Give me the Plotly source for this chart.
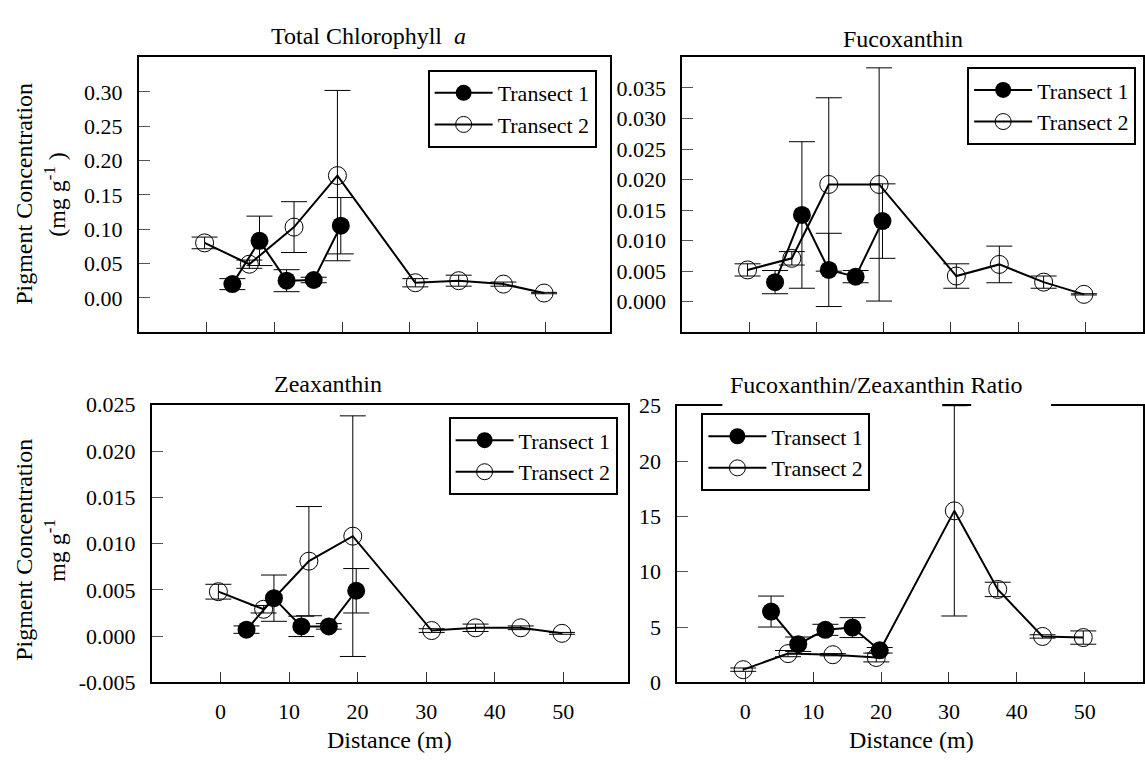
import plotly.graph_objects as go

W, H = 1145, 766

# ---------------- data ----------------
DIST_T1 = [3.8, 7.8, 11.8, 15.8, 19.8]
DIST_T2 = [-0.3, 6.3, 12.9, 19.3, 30.8, 37.2, 43.8, 49.8]
FUCO_DIST_T2 = [-0.3, 6.3, 11.8, 19.3, 30.8, 37.2, 43.8, 49.8]

CHL_T1 = [0.020, 0.083, 0.025, 0.026, 0.105]
CHL_T1_ERR = [0.008, 0.036, 0.016, 0.004, 0.041]
CHL_T2 = [0.080, 0.049, 0.103, 0.178, 0.022, 0.025, 0.020, 0.007]
CHL_T2_ERR = [0.0085, 0.006, 0.037, 0.124, 0.006, 0.008, 0.003, 0.001]

FUCO_T1 = [0.0032, 0.0142, 0.0052, 0.0041, 0.0132]
FUCO_T1_ERR = [0.0019, 0.012, 0.006, 0.001, 0.0061]
FUCO_T2 = [0.0052, 0.0071, 0.0192, 0.0192, 0.0042, 0.0061, 0.0032, 0.0012]
FUCO_T2_ERR = [0.001, 0.0011, 0.0142, 0.0191, 0.002, 0.003, 0.001, 0.0001]

ZEA_T1 = [0.0007, 0.0041, 0.00105, 0.00105, 0.0049]
ZEA_T1_ERR = [0.0004, 0.0025, 0.0011, 0.0003, 0.0024]
ZEA_T2 = [0.0048, 0.0029, 0.0081, 0.0108, 0.0006, 0.0009, 0.0009, 0.0003]
ZEA_T2_ERR = [0.0008, 0.0004, 0.0059, 0.013, 0.0002, 0.0004, 0.0002, 0.0001]

RATIO_T1 = [6.4, 3.45, 4.75, 4.95, 2.9]
RATIO_T1_ERR = [1.4, 0.65, 0.5, 0.9, 0.25]
RATIO_T2 = [1.15, 2.6, 2.5, 2.25, 15.5, 8.4, 4.15, 4.05]
RATIO_T2_ERR = [0.15, 0.28, 0.1, 0.4, 9.5, 0.65, 0.15, 0.6]

X_TICKS = [0, 10, 20, 30, 40, 50]
X_TICKTEXT = ["0", "10", "20", "30", "40", "50"]
CHL_TICKS = [0.0, 0.05, 0.10, 0.15, 0.20, 0.25, 0.30]
CHL_TICKTEXT = ["0.00", "0.05", "0.10", "0.15", "0.20", "0.25", "0.30"]
FUCO_TICKS = [0.0, 0.005, 0.010, 0.015, 0.020, 0.025, 0.030, 0.035]
FUCO_TICKTEXT = ["0.000", "0.005", "0.010", "0.015", "0.020", "0.025", "0.030", "0.035"]
ZEA_TICKS = [-0.005, 0.0, 0.005, 0.010, 0.015, 0.020, 0.025]
ZEA_TICKTEXT = ["-0.005", "0.000", "0.005", "0.010", "0.015", "0.020", "0.025"]
RATIO_TICKS = [0, 5, 10, 15, 20, 25]
RATIO_TICKTEXT = ["0", "5", "10", "15", "20", "25"]

LEGEND_NAMES = ["Transect 1", "Transect 2"]
TITLES = ["Total Chlorophyll  <i>a</i>", "Fucoxanthin", "Zeaxanthin",
          "Fucoxanthin/Zeaxanthin Ratio"]

FONT = "Liberation Serif, Times New Roman, serif"

def px_x(p):
    return p / W

def px_y(p):
    return 1 - p / H

# panel pixel boxes (left, right, top, bottom)
BOXES = [
    (139, 611, 47, 331),
    (683, 1144, 47, 331),
    (152, 629, 406, 693),
    (678, 1144, 407, 693),
]
XRANGES = [[-10, 59.6], [-10, 58.6], [-10, 59.5], [-10, 58.6]]
YRANGES = [[-0.05, 0.35], [-0.005, 0.04], [-0.005, 0.025], [0, 25]]
YTICKS = [(CHL_TICKS, CHL_TICKTEXT), (FUCO_TICKS, FUCO_TICKTEXT),
          (ZEA_TICKS, ZEA_TICKTEXT), (RATIO_TICKS, RATIO_TICKTEXT)]
LEGEND_POS = [(428, 60), (968, 57), (449, 419), (702, 415)]

panels = [
    (DIST_T1, CHL_T1, CHL_T1_ERR, DIST_T2, CHL_T2, CHL_T2_ERR),
    (DIST_T1, FUCO_T1, FUCO_T1_ERR, FUCO_DIST_T2, FUCO_T2, FUCO_T2_ERR),
    (DIST_T1, ZEA_T1, ZEA_T1_ERR, DIST_T2, ZEA_T2, ZEA_T2_ERR),
    (DIST_T1, RATIO_T1, RATIO_T1_ERR, DIST_T2, RATIO_T2, RATIO_T2_ERR),
]

fig = go.Figure()
layout = dict(
    width=W, height=H, margin=dict(l=0, r=0, t=0, b=0),
    paper_bgcolor="white", plot_bgcolor="white",
    font=dict(family=FONT, size=22, color="black"),
    showlegend=True,
)

for i, (x1, y1, e1, x2, y2, e2) in enumerate(panels):
    n = i + 1
    xa = "x" if n == 1 else f"x{n}"
    ya = "y" if n == 1 else f"y{n}"
    lg = "legend" if n == 1 else f"legend{n}"
    fig.add_trace(go.Scatter(
        x=x1, y=y1, xaxis=xa, yaxis=ya, legend=lg, name=LEGEND_NAMES[0],
        mode="lines+markers",
        line=dict(color="black", width=2),
        marker=dict(symbol="circle", size=18, color="black"),
        error_y=dict(type="data", array=e1, visible=True, color="black",
                     thickness=1, width=13),
    ))
    fig.add_trace(go.Scatter(
        x=x2, y=y2, xaxis=xa, yaxis=ya, legend=lg, name=LEGEND_NAMES[1],
        mode="lines+markers",
        line=dict(color="black", width=2),
        marker=dict(symbol="circle-open", size=18, color="black",
                    line=dict(width=1, color="black")),
        error_y=dict(type="data", array=e2, visible=True, color="black",
                     thickness=1, width=13),
    ))

    l, r, t, b = BOXES[i]
    bottom_row = i >= 2
    layout[f"xaxis{'' if n == 1 else n}"] = dict(
        domain=[px_x(l), px_x(r)], anchor=ya, range=XRANGES[i],
        showline=True, linecolor="black", linewidth=2, mirror=True,
        ticks="inside", ticklen=10, tickwidth=1, tickcolor="#333",
        tickvals=X_TICKS, ticktext=X_TICKTEXT,
        showticklabels=bottom_row, showgrid=False, zeroline=False,
        tickfont=dict(family=FONT, size=22), ticklabelstandoff=8,
    )
    tv, tt = YTICKS[i]
    layout[f"yaxis{'' if n == 1 else n}"] = dict(
        domain=[px_y(b), px_y(t)], anchor=xa, range=YRANGES[i],
        showline=True, linecolor="black", linewidth=2, mirror=True,
        ticks="inside", ticklen=11, tickwidth=1, tickcolor="#555",
        tickvals=tv, ticktext=tt, showgrid=False, zeroline=False,
        tickfont=dict(family=FONT, size=22), ticklabelstandoff=10,
    )
    lx, ly = LEGEND_POS[i]
    layout[lg] = dict(
        x=px_x(lx), y=px_y(ly), xanchor="left", yanchor="top",
        bgcolor="white", bordercolor="black", borderwidth=2,
        font=dict(family=FONT, size=22), itemwidth=58,
        tracegroupgap=0,
    )

annotations = []
TITLE_POS = [(369, 25), (904, 28), (328, 385), (877, 386)]
for (tx, ty), txt in zip(TITLE_POS, TITLES):
    annotations.append(dict(
        text=txt, x=px_x(tx), y=px_y(ty), xref="paper", yref="paper",
        xanchor="center", yanchor="middle", showarrow=False,
        font=dict(family=FONT, size=24),
    ))
for tx in (390, 912):
    annotations.append(dict(
        text="Distance (m)", x=px_x(tx), y=px_y(753), xref="paper", yref="paper",
        xanchor="center", yanchor="middle", showarrow=False,
        font=dict(family=FONT, size=24),
    ))
for cy, sub in ((188, "(mg g<sup>-1</sup> )"), (556, "mg g<sup>-1</sup>")):
    annotations.append(dict(
        text="Pigment Concentration", x=px_x(24), y=px_y(cy), xref="paper",
        yref="paper", xanchor="center", yanchor="middle", showarrow=False,
        textangle=-90, font=dict(family=FONT, size=24),
    ))
    annotations.append(dict(
        text=sub, x=px_x(55), y=px_y(cy), xref="paper",
        yref="paper", xanchor="center", yanchor="middle", showarrow=False,
        textangle=-90, font=dict(family=FONT, size=24),
    ))
layout["annotations"] = annotations

# gap in the top frame of the ratio panel (as in the reference)
layout["shapes"] = [
    dict(type="rect", xref="paper", yref="paper", layer="above",
         x0=px_x(723), x1=px_x(943), y0=px_y(410), y1=px_y(404),
         fillcolor="white", line=dict(width=0)),
    dict(type="rect", xref="paper", yref="paper", layer="above",
         x0=px_x(972), x1=px_x(1052), y0=px_y(410), y1=px_y(404),
         fillcolor="white", line=dict(width=0)),
]

fig.update_layout(**layout)
fig.write_html("out.html")
